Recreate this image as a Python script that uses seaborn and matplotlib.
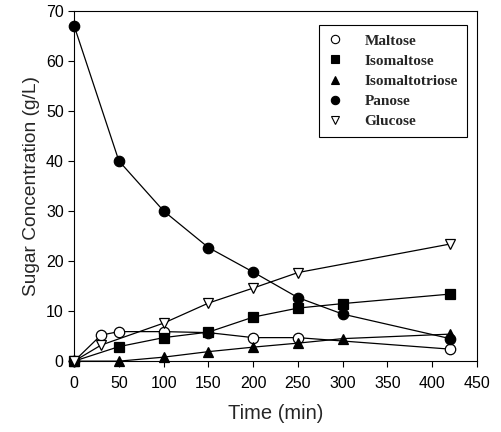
import matplotlib
matplotlib.use("Agg")
import matplotlib.pyplot as plt
import seaborn as sns
import pandas as pd

sns.set_theme(style="ticks")
plt.rcParams['font.family'] = ['Liberation Sans', 'DejaVu Sans']

time_maltose = [0, 30, 50, 100, 150, 200, 250, 420]
maltose = [0, 5.2, 5.9, 5.9, 5.7, 4.7, 4.7, 2.4]

time_isomaltose = [0, 50, 100, 150, 200, 250, 300, 420]
isomaltose = [0, 2.9, 4.7, 5.8, 8.8, 10.6, 11.5, 13.4]

time_isomaltotriose = [0, 50, 100, 150, 200, 250, 300, 420]
isomaltotriose = [0, 0, 0.8, 1.9, 2.8, 3.6, 4.5, 5.4]

time_panose = [0, 50, 100, 150, 200, 250, 300, 420]
panose = [67, 40, 30, 22.7, 17.8, 12.7, 9.4, 4.5]

time_glucose = [0, 30, 100, 150, 200, 250, 420]
glucose = [0, 3.2, 7.6, 11.6, 14.6, 17.7, 23.4]

series = [
    ("Maltose", time_maltose, maltose, "o", "white"),
    ("Isomaltose", time_isomaltose, isomaltose, "s", "black"),
    ("Isomaltotriose", time_isomaltotriose, isomaltotriose, "^", "black"),
    ("Panose", time_panose, panose, "o", "black"),
    ("Glucose", time_glucose, glucose, "v", "white"),
]

fig = plt.figure(figsize=(5.01, 4.32), dpi=100)
ax = fig.add_axes([0.148, 0.164, 0.804, 0.811])

for name, t, v, m, fc in series:
    df = pd.DataFrame({"t": t, "v": v})
    sns.lineplot(data=df, x="t", y="v", ax=ax, color="black", linewidth=0.9,
                 marker=m, markersize=7.5 if m != "s" else 6.5,
                 markerfacecolor=fc, markeredgecolor="black", markeredgewidth=0.9,
                 label=name, clip_on=False, zorder=3)

ax.set_xlim(0, 450)
ax.set_ylim(0, 70)
ax.set_xticks(range(0, 451, 50))
ax.set_yticks(range(0, 71, 10))
ax.tick_params(axis="both", direction="out", length=4, width=0.8, labelsize=11.5, colors="black")
ax.tick_params(axis="x", pad=7)
for s in ax.spines.values():
    s.set_visible(True)
    s.set_color("black")
    s.set_linewidth(0.8)
ax.set_xlabel("Time (min)", fontsize=14.5, labelpad=9)
ax.set_ylabel("Sugar Concentration (g/L)", fontsize=13.8, labelpad=4)

handles, labels = ax.get_legend_handles_labels()
new_handles = []
for h in handles:
    h2 = matplotlib.lines.Line2D([], [], linestyle="none", marker=h.get_marker(),
                                 markersize=6, markerfacecolor=h.get_markerfacecolor(),
                                 markeredgecolor="black", markeredgewidth=0.8)
    new_handles.append(h2)
leg = ax.legend(new_handles, labels, loc="upper right", bbox_to_anchor=(0.975, 0.96),
                frameon=True, fancybox=False, edgecolor="black", framealpha=1,
                prop={"family": "Liberation Serif", "weight": "bold", "size": 11},
                handletextpad=1.4, labelspacing=0.42, borderpad=0.6, handlelength=1.0,
                borderaxespad=0)
leg.get_frame().set_linewidth(0.8)

fig.savefig("out.png", dpi=100)
